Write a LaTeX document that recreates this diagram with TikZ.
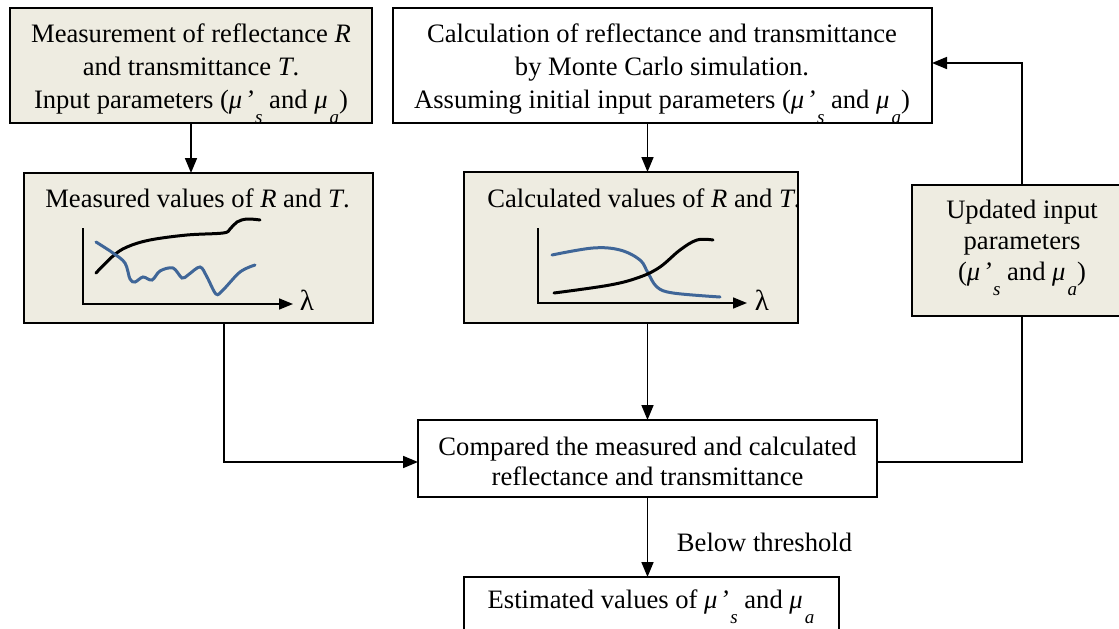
\documentclass[tikz,border=0pt]{standalone}
\usepackage{fontspec}
\setmainfont{Liberation Serif}
\usetikzlibrary{arrows.meta}
\definecolor{boxfill}{HTML}{EEECE1}
\definecolor{curveblue}{HTML}{3F6698}
\newcommand\musub[1]{\raisebox{-15pt}{\fontsize{19}{19}\selectfont\textit{#1}}}
\newcommand\mus{\textit{μ}\kern2.5pt\textit{’}\kern1.5pt\musub{s}}
\newcommand\mua{\textit{μ}\kern2pt\musub{a}}
\tikzset{
  gbox/.style={draw=black, line width=1.6pt, fill=boxfill, inner sep=0pt, outer sep=0pt},
  wbox/.style={draw=black, line width=1.6pt, fill=white, inner sep=0pt, outer sep=0pt},
  txt/.style={align=center, inner sep=0pt, font=\fontsize{26.6}{33}\selectfont},
  arr/.style={line width=1.7pt, -{Triangle[length=15pt,width=12pt]}},
  axisarr/.style={line width=1.6pt, -{Triangle[length=14pt,width=11pt]}},
  blkcurve/.style={line width=3pt, black, line cap=round},
  bluecurve/.style={line width=3pt, curveblue, line cap=round},
}
\begin{document}
\begin{tikzpicture}[x=1pt, y=-1pt]
\useasboundingbox (0,0) rectangle (1119,629);
\clip (0,0) rectangle (1119,629);
% boxes
\node[gbox, minimum width=362pt, minimum height=115pt] (b1) at (191,65.5) {};
\node[wbox, minimum width=539pt, minimum height=115pt] (b2) at (662.5,65.5) {};
\node[gbox, minimum width=349pt, minimum height=150pt] (b3) at (198.5,248) {};
\node[gbox, minimum width=334pt, minimum height=151pt] (b4) at (631,247.5) {};
\node[gbox, minimum width=220pt, minimum height=131pt] (upd) at (1022,250.5) {};
\node[wbox, minimum width=459pt, minimum height=77pt] (cmp) at (647.5,458.5) {};
\node[wbox, minimum width=375pt, minimum height=70pt] (est) at (651.5,612) {};
% texts
\begin{scope}
\clip ([shift={(1pt,-1pt)}]b1.south west) rectangle ([shift={(-1pt,1pt)}]b1.north east);
\node[txt] (t1) at (191,74) {Measurement of reflectance \textit{R}\\and transmittance \textit{T}.\\Input parameters (\mus{} and \mua)};
\end{scope}
\begin{scope}
\clip ([shift={(1pt,-1pt)}]b2.south west) rectangle ([shift={(-1pt,1pt)}]b2.north east);
\node[txt] (t2) at (662,74) {Calculation of reflectance and transmittance\\by Monte Carlo simulation.\\Assuming initial input parameters (\mus{} and \mua)};
\end{scope}
\node[txt] (t3) at (197.5,198) {Measured values of \textit{R} and \textit{T}.};
\node[txt] (t4) at (644,198) {Calculated values of \textit{R} and \textit{T}.};
\node[txt, font=\fontsize{26.6}{31}\selectfont] (t5) at (1022,248) {Updated input\\parameters\\(\mus{} and \mua)};
\node[txt, font=\fontsize{26.6}{30}\selectfont] (t6) at (647.5,461) {Compared the measured and calculated\\reflectance and transmittance};
\node[txt] (t7) at (651,607) {Estimated values of \mus{} and \mua};
% chart in measured box
\draw[axisarr] (83,228) -- (83,304) -- (293,304);
\node[txt, font=\fontsize{29}{33}\selectfont] (lam1) at (307,300) {λ};
\draw[blkcurve] plot[smooth, tension=0.6] coordinates {(96,273) (113,256) (127,247) (150,240) (187,235) (223,233) (230,229) (237,222) (247,219) (260,220)};
\draw[bluecurve] plot[smooth, tension=0.55] coordinates {(96,242) (113,253) (125,263) (130,279) (135,282) (143,277) (152,280) (160,271) (173,268) (182,278) (188,275) (200,267) (207,277) (216,294) (223,290) (240,272) (255,265)};
% chart in calculated box
\draw[axisarr] (538,228) -- (538,303) -- (747,303);
\node[txt, font=\fontsize{29}{33}\selectfont] (lam2) at (762,300) {λ};
\draw[bluecurve] plot[smooth, tension=0.6] coordinates {(552,255) (593,248) (620,250) (640,260) (648,273) (657,287) (673,293) (720,297)};
\draw[blkcurve] plot[smooth, tension=0.6] coordinates {(554,293) (610,285) (640,277) (660,267) (680,250) (697,240) (713,240)};
% connectors
\coordinate (k1) at (224,462);
\coordinate (k2) at (1022,63);
\draw[arr] (b1.south) -- (b1.south |- b3.north);
\draw[arr] (b2.south -| cmp.north) -- (cmp.north |- b4.north);
\draw[arr] (b4.south -| cmp.north) -- (cmp.north);
\draw[arr] (b3.south -| k1) -- (k1) -- (k1 -| cmp.west);
\draw[line width=1.7pt] (k1 -| cmp.east) -- (k1 -| upd.south) -- (upd.south);
\draw[arr] (upd.north) -- (k2) -- (k2 -| b2.east);
\draw[arr] (cmp.south) -- (cmp.south |- est.north);
\node[txt] (lbl) at (764.5,542) {Below threshold};
\end{tikzpicture}
\end{document}
